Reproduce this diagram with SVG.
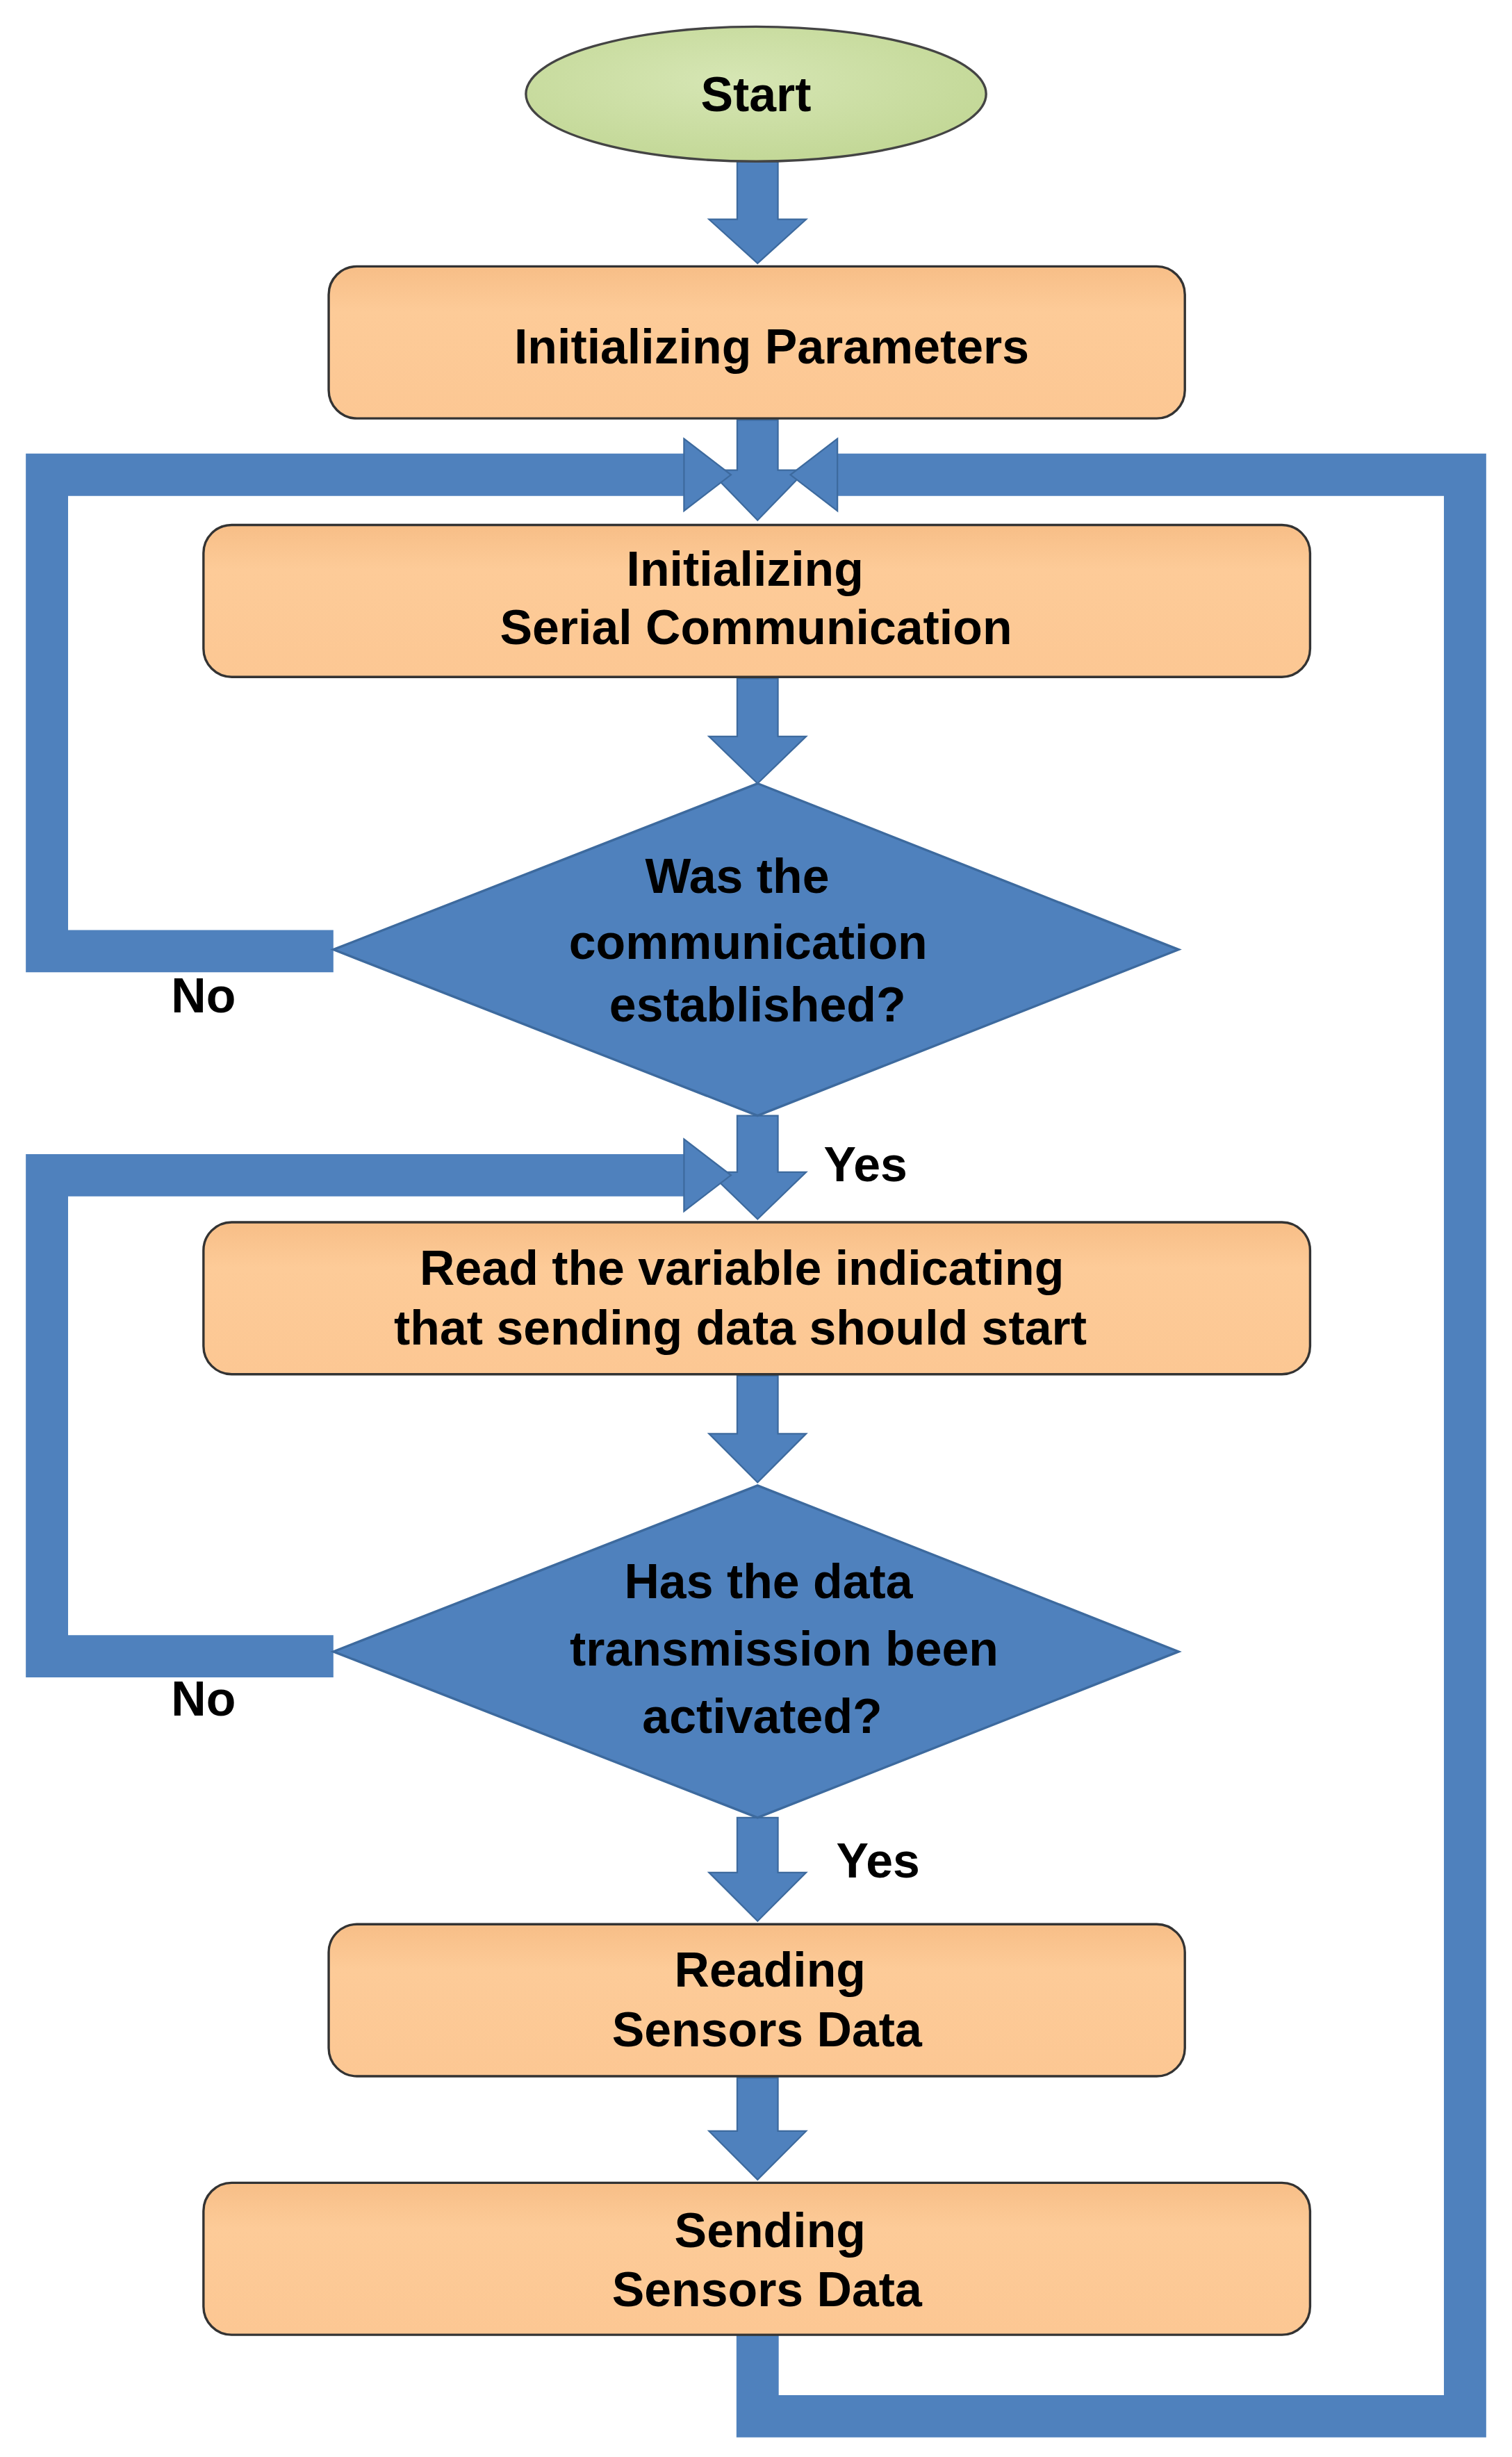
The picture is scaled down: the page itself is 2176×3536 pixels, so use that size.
<svg xmlns="http://www.w3.org/2000/svg" width="2176" height="3536" viewBox="0 0 2176 3536">
<style>
.box{fill:url(#bg);stroke:#333;stroke-width:1.5}
.t{font-family:"Liberation Sans",Arial,sans-serif;font-weight:bold;font-size:31px;fill:#000;text-anchor:middle}
.dia{fill:#4F81BD;stroke:#3D6A9E;stroke-width:1.5}
.arr{fill:#4F81BD;stroke:#3D6A9E;stroke-width:1}
.band{fill:none;stroke:#4F81BD;stroke-width:27;stroke-linejoin:miter}
</style>
<defs>
<linearGradient id="bg" x1="0" y1="0" x2="0" y2="1"><stop offset="0" stop-color="#F7BE87"/><stop offset="0.3" stop-color="#FDCB98"/><stop offset="1" stop-color="#FCC793"/></linearGradient>
<radialGradient id="eg" cx="0.45" cy="0.4" r="0.6"><stop offset="0" stop-color="#D6E6B4"/><stop offset="1" stop-color="#C3D897"/></radialGradient>
</defs>
<rect width="2176" height="3536" fill="#fff"/>
<g transform="scale(2.2526 2.2551)">
<g id="connectors">
<polygon class="arr" points="471,103 497,103 497,140 515,140 484,168 453,140 471,140"/>
<polygon class="arr" points="471,268 497,268 497,300 515,300 484,332 453,300 471,300"/>
<polygon class="arr" points="471,433 497,433 497,470 515,470 484,500 453,470 471,470"/>
<polygon class="arr" points="471,712 497,712 497,748 515,748 484,778 453,748 471,748"/>
<polygon class="arr" points="471,878 497,878 497,915 515,915 484,946 453,915 471,915"/>
<polygon class="arr" points="471,1160 497,1160 497,1195 515,1195 484,1226 453,1195 471,1195"/>
<polygon class="arr" points="471,1326 497,1326 497,1360 515,1360 484,1391 453,1360 471,1360"/>
<polyline class="band" points="213,607 30,607 30,303 437,303"/>
<polygon class="arr" points="437,280 467,303 437,326"/>
<polyline class="band" points="213,1057 30,1057 30,750 437,750"/>
<polygon class="arr" points="437,727 467,750 437,773"/>
<polyline class="band" points="484,1490 484,1542 936,1542 936,303 533,303"/>
<polygon class="arr" points="535,280 505,303 535,326"/>
</g>
<g id="start"><ellipse cx="483" cy="60" rx="147" ry="43" fill="url(#eg)" stroke="#444" stroke-width="1.5"/><text class="t" x="483" y="71">Start</text></g>
<g id="init-params"><rect class="box" x="210" y="170" width="547" height="97" rx="18"/><text class="t" x="493" y="232">Initializing  Parameters</text></g>
<g id="init-serial"><rect class="box" x="130" y="335" width="707" height="97" rx="18"/><text class="t" x="476" y="374">Initializing</text><text class="t" x="483" y="411">Serial  Communication</text></g>
<g id="decision1"><polygon class="dia" points="484,500 753,606 484,712 213,606"/><text class="t" x="471" y="570">Was the</text><text class="t" x="478" y="612">communication</text><text class="t" x="484" y="652">established?</text></g>
<g id="read-var"><rect class="box" x="130" y="780" width="707" height="97" rx="18"/><text class="t" x="474" y="820">Read the variable indicating</text><text class="t" x="473" y="858">that sending data should start</text></g>
<g id="decision2"><polygon class="dia" points="484,948 753,1054 484,1160 213,1054"/><text class="t" x="491" y="1020">Has the data</text><text class="t" x="501" y="1063">transmission been</text><text class="t" x="487" y="1106">activated?</text></g>
<g id="reading"><rect class="box" x="210" y="1228" width="547" height="97" rx="18"/><text class="t" x="492" y="1268">Reading</text><text class="t" x="490" y="1306">Sensors  Data</text></g>
<g id="sending"><rect class="box" x="130" y="1393" width="707" height="97" rx="18"/><text class="t" x="492" y="1434">Sending</text><text class="t" x="490" y="1472">Sensors  Data</text></g>
<g id="labels"><text class="t" x="130" y="646">No</text><text class="t" x="553" y="754">Yes</text><text class="t" x="130" y="1095">No</text><text class="t" x="561" y="1198">Yes</text></g>
</g>
</svg>
